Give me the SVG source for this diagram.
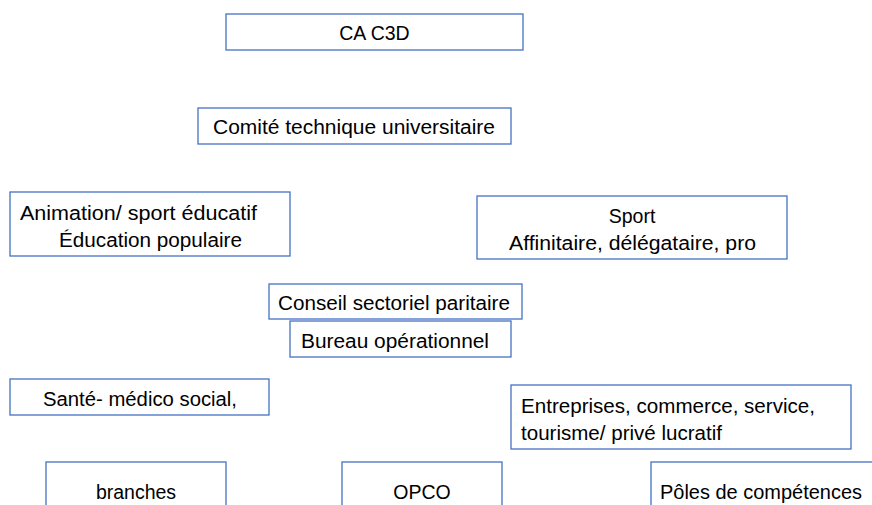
<svg xmlns="http://www.w3.org/2000/svg" width="872" height="505" viewBox="0 0 872 505">
<style>
rect.box{fill:#fff;stroke:#4472C4;stroke-width:1.3}
text{font-family:"Liberation Sans",Arial,sans-serif;font-size:19.5px;fill:#000}
</style>
<rect width="872" height="505" fill="#fff"/>
<g id="connectors"></g>
<g id="ca-c3d"><rect class="box" x="226" y="14" width="297" height="36"/><text x="374.5" y="40" text-anchor="middle">CA C3D</text></g>
<g id="comite"><rect class="box" x="198" y="108" width="313" height="36"/><text x="213" y="134" textLength="282" lengthAdjust="spacingAndGlyphs">Comité technique universitaire</text></g>
<g id="animation"><rect class="box" x="10" y="192" width="280" height="64"/><text x="20" y="220" textLength="237" lengthAdjust="spacingAndGlyphs">Animation/ sport éducatif</text><text x="59" y="247" textLength="183" lengthAdjust="spacingAndGlyphs">Éducation populaire</text></g>
<g id="sport"><rect class="box" x="477" y="196" width="310" height="63"/><text x="632" y="223" text-anchor="middle">Sport</text><text x="509" y="250" textLength="247" lengthAdjust="spacingAndGlyphs">Affinitaire, délégataire, pro</text></g>
<g id="conseil"><rect class="box" x="269" y="284" width="253" height="35"/><text x="278" y="310" textLength="232" lengthAdjust="spacingAndGlyphs">Conseil sectoriel paritaire</text></g>
<g id="bureau"><rect class="box" x="290" y="321" width="221" height="36"/><text x="301" y="348" textLength="188" lengthAdjust="spacingAndGlyphs">Bureau opérationnel</text></g>
<g id="sante"><rect class="box" x="10" y="379" width="259" height="36"/><text x="43" y="406" textLength="194" lengthAdjust="spacingAndGlyphs">Santé- médico social,</text></g>
<g id="entreprises"><rect class="box" x="511" y="385" width="340" height="64"/><text x="521" y="413" textLength="294" lengthAdjust="spacingAndGlyphs">Entreprises, commerce, service,</text><text x="521" y="440" textLength="201" lengthAdjust="spacingAndGlyphs">tourisme/ privé lucratif</text></g>
<g id="branches"><rect class="box" x="46" y="462" width="180" height="60"/><text x="136" y="499" text-anchor="middle">branches</text></g>
<g id="opco"><rect class="box" x="342" y="462" width="160" height="60"/><text x="422" y="499" text-anchor="middle">OPCO</text></g>
<g id="poles"><rect class="box" x="651" y="462" width="240" height="60"/><text x="660" y="499" textLength="202" lengthAdjust="spacingAndGlyphs">Pôles de compétences</text></g>
</svg>
